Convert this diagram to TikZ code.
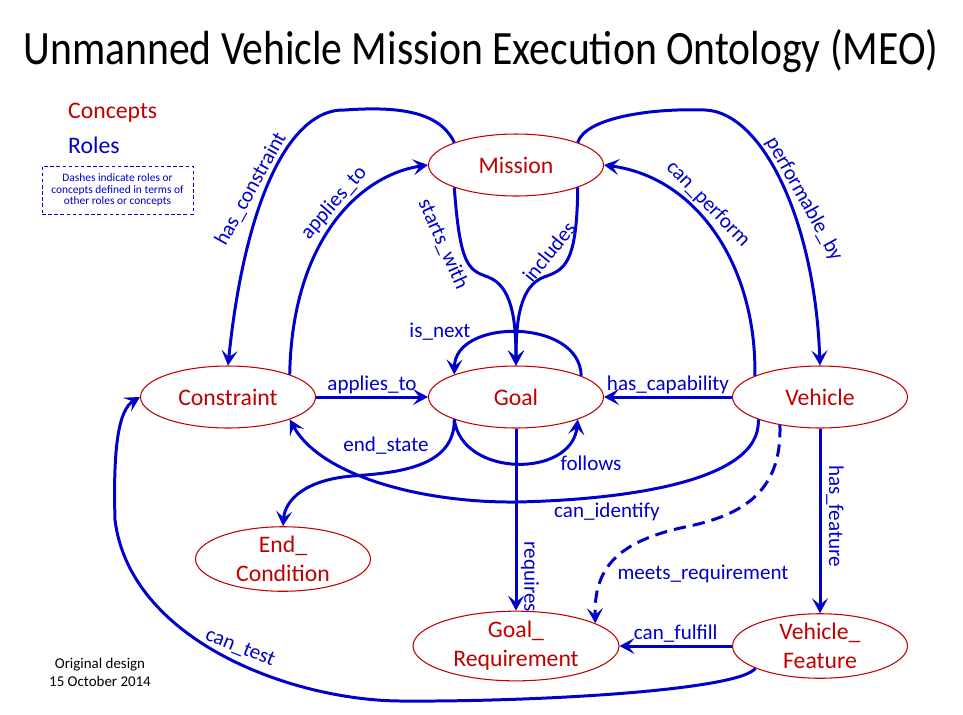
\documentclass[tikz,border=0pt]{standalone}
\usepackage{fontspec}
\setmainfont{Carlito}
\usetikzlibrary{arrows.meta, positioning, shapes.geometric}
\definecolor{conceptred}{HTML}{C00000}
\definecolor{roleblue}{HTML}{0000CC}

\begin{document}
\begin{tikzpicture}[x=0.02cm, y=-0.02cm,
    concept/.style={ellipse, draw=conceptred, line width=0.6pt, minimum width=3.5cm, minimum height=1.24cm, inner sep=0pt, align=center, text=conceptred, font=\fontsize{13.5}{16.5}\selectfont},
    role/.style={-{Stealth[length=3mm, width=3.2mm, inset=1.3mm]}, line width=1.7pt, draw=roleblue},
    lbl/.style={text=roleblue, font=\fontsize{12}{14}\selectfont, inner sep=1pt}
]
\useasboundingbox (0,0) rectangle (963,714);

\node[font=\fontsize{23.7}{28}\selectfont] (title) at (481,51) {\scalebox{1}[1.15]{Unmanned Vehicle Mission Execution Ontology (MEO)}};

\node[text=conceptred, font=\fontsize{13.5}{16}\selectfont, anchor=west] (concepts) at (62,113) {Concepts};
\node[text=roleblue, font=\fontsize{13.5}{16}\selectfont, anchor=west] (roles) at (62,145) {Roles};
\node[draw=roleblue, dash pattern=on 2pt off 1.5pt, line width=0.5pt, minimum width=3.02cm, minimum height=0.96cm, align=center, text=roleblue, font=\fontsize{6.5}{6.6}\selectfont] (note) at (117.5,190) {Dashes indicate roles or\\concepts defined in terms of\\other roles or concepts};
\node[align=center, font=\fontsize{8.5}{10.2}\selectfont] (orig) at (100,672) {Original design\\15 October 2014};

\node[concept] (mission) at (516,165) {Mission};
\node[concept] (goal) at (516,397) {Goal};
\node[concept] (constraint) at (228,397) {Constraint};
\node[concept] (vehicle) at (820,397) {Vehicle};
\node[concept] (endcond) at (283,559) {End\_\\Condition};
\node[concept, minimum width=4.12cm] (goalreq) at (516,646) {Goal\_\\Requirement};
\node[concept] (vfeat) at (820,646) {Vehicle\_\\Feature};

\draw[role] (mission.160) .. controls (440,112) and (400,106) .. (345,110) .. controls (290,108) and (245,200) .. (constraint.north);
\draw[role] (constraint.20) .. controls (292,240) and (360,175) .. (mission.west);
\draw[role] (mission.200) .. controls (460,265) and (468,270) .. (488,277) .. controls (512,286) and (516,320) .. (goal.north);
\draw[role] (mission.340) .. controls (577,265) and (564,270) .. (544,277) .. controls (520,286) and (516,320) .. (goal.north);
\draw[role] (goal.18) .. controls (580,318) and (455,318) .. (goal.160);
\draw[role] (vehicle.162) .. controls (757,270) and (700,178) .. (mission.east);
\draw[role] (mission.20) .. controls (585,118) and (650,108) .. (705,110) .. controls (762,112) and (815,220) .. (vehicle.north);
\draw[role] (constraint) -- node[lbl, above] (lapp) {applies\_to} (goal);
\draw[role] (vehicle) -- node[lbl, above] (lcap) {has\_capability} (goal);
\draw[role] (goal.200) .. controls (455,468) and (395,473) .. (352,476) .. controls (305,480) and (285,500) .. (endcond.north);
\draw[role] (goal.200) .. controls (462,478) and (572,478) .. (goal.340);
\draw[role] (vehicle.200) .. controls (762,485) and (610,500) .. (517,502) .. controls (420,503) and (320,475) .. (constraint.340);
\draw[role] (goal) -- (goalreq);
\draw[role] (vehicle) -- (vfeat);
\draw[role, dash pattern=on 7pt off 4pt] (vehicle.215) .. controls (782,490) and (745,515) .. (685,527) .. controls (615,542) and (594,570) .. (goalreq.16);
\draw[role] (vfeat) -- node[lbl, above] (lful) {can\_fulfill} (goalreq);
\draw[role] (vfeat.199) .. controls (740,690) and (540,702) .. (400,701) .. controls (290,700) and (130,640) .. (115,520) .. controls (113,450) and (118,410) .. (constraint.west);

\node[lbl, rotate=61] (lhascon) at (251,189) {has\_constraint};
\node[lbl, rotate=49] (lappm) at (334,203) {applies\_to};
\node[lbl, rotate=-66] (lstart) at (443,244) {starts\_with};
\node[lbl, rotate=51] (lincl) at (549,252) {includes};
\node[lbl] (lnext) at (440,332) {is\_next};
\node[lbl, rotate=-46] (lperf) at (708,204) {can\_perform};
\node[lbl, rotate=-61] (lperfby) at (804,199) {performable\_by};
\node[lbl] (lend) at (386,446) {end\_state};
\node[lbl] (lfol) at (591,463) {follows};
\node[lbl] (lident) at (607,512) {can\_identify};
\node[lbl, rotate=-90] (lreq) at (530,577) {requires};
\node[lbl, rotate=-90] (lfeat) at (835,516) {has\_feature};
\node[lbl] (lmeet) at (703,574) {meets\_requirement};
\node[lbl, rotate=-22] (ltest) at (240,648) {can\_test};
\end{tikzpicture}
\end{document}
